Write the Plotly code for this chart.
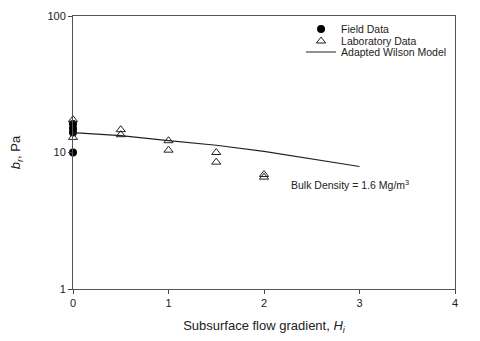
import plotly.graph_objects as go

# field measurements (filled circles)
field_x = [0, 0, 0, 0]
field_y = [10.0, 14.0, 15.0, 16.2]

# laboratory measurements (open triangles)
lab_x = [0, 0, 0.5, 0.5, 1, 1, 1.5, 1.5, 2, 2]
lab_y = [17.4, 12.9, 14.7, 13.5, 12.2, 10.4, 10.0, 8.5, 6.9, 6.6]

# adapted Wilson model curve
model_x = [0, 0.5, 1, 1.5, 2, 2.5, 3]
model_y = [14.0, 13.3, 12.2, 11.3, 10.2, 9.0, 7.9]

x_ticks = [0, 1, 2, 3, 4]
y_ticks = [1, 10, 100]

ink = "#222222"
axis_col = "#555555"
font = "Liberation Sans, Arial, sans-serif"

fig = go.Figure()
fig.add_trace(go.Scatter(
    x=field_x, y=field_y, mode="markers", name="Field Data",
    marker=dict(symbol="circle", size=8, color="black"),
    cliponaxis=False, legend="legend",
))
fig.add_trace(go.Scatter(
    x=lab_x, y=lab_y, mode="markers", name="Laboratory Data",
    marker=dict(symbol="triangle-up-open", size=8, color=ink, line=dict(width=1, color=ink)),
    cliponaxis=False, legend="legend2",
))
fig.add_trace(go.Scatter(
    x=model_x, y=model_y, mode="lines", name="Adapted Wilson Model",
    line=dict(color=ink, width=1.2),
    legend="legend3",
))

fig.add_annotation(
    x=2.26, y=0.766, xref="x", yref="y",
    text="Bulk Density = 1.6 Mg/m<sup>3</sup>", showarrow=False,
    font=dict(size=10.5, color=ink, family=font), xanchor="left",
)

legend_style = dict(
    x=0.597, xanchor="left", yanchor="middle",
    bgcolor="rgba(0,0,0,0)", font=dict(size=10.5, color=ink),
    itemwidth=30,
)

# the page body adds a small offset, so margins are trimmed on top/left
fig.update_layout(
    width=480, height=341,
    margin=dict(l=65, r=33, t=7, b=60),
    plot_bgcolor="white", paper_bgcolor="white",
    font=dict(family=font, size=11, color=ink),
    showlegend=True,
    legend=dict(legend_style, y=0.949),
    legend2=dict(legend_style, y=0.905),
    legend3=dict(legend_style, y=0.865),
)
fig.update_xaxes(
    range=[0, 4], tickvals=x_ticks, ticks="outside", ticklen=4,
    showline=True, linecolor=axis_col, linewidth=1, mirror=True,
    showgrid=False, zeroline=False, tickfont=dict(size=11), automargin=False,
    title=dict(text="Subsurface flow gradient, <i>H<sub>i</sub></i>", font=dict(size=13), standoff=12),
)
fig.update_yaxes(
    type="log", range=[0, 2], tickvals=y_ticks, ticks="outside", ticklen=4,
    showline=True, linecolor=axis_col, linewidth=1, mirror=True,
    showgrid=False, zeroline=False, tickfont=dict(size=11), automargin=False,
    title=dict(text="<i>b<sub>r</sub></i>, Pa", font=dict(size=13), standoff=23),
)

fig.write_html("out.html")
